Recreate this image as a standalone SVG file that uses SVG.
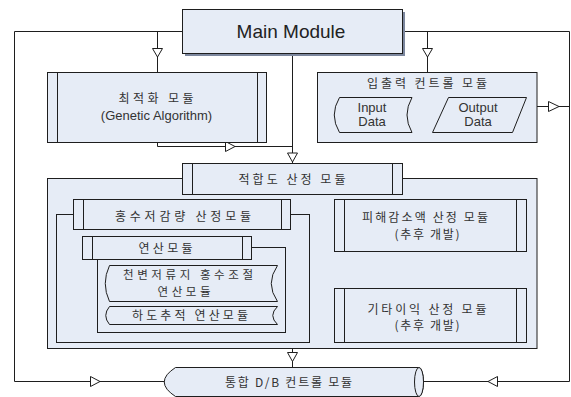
<svg xmlns="http://www.w3.org/2000/svg" width="571" height="397" viewBox="0 0 571 397">
<style>
.n{fill:#e6ecf6;stroke:#1e1e1e;stroke-width:1}
.f{fill:none;stroke:#1e1e1e;stroke-width:1}
.c{fill:none;stroke:#1e1e1e;stroke-width:1}
.a{fill:#ffffff;stroke:#1e1e1e;stroke-width:1}
.t{font-family:"Noto Sans CJK KR","Liberation Sans",sans-serif;font-size:12px;fill:#333;text-anchor:middle}
.s{font-family:"Noto Sans CJK KR","Liberation Sans",sans-serif;font-size:11.5px;fill:#333;text-anchor:middle}
.e{font-family:"Liberation Sans","Noto Sans CJK KR",sans-serif;font-size:13px;fill:#333;text-anchor:middle}
</style>
<rect width="571" height="397" fill="#ffffff"/>
<g id="connectors">
<path class="c" d="M182.5,31.5 H14.5 V381.5 H164"/>
<path class="c" d="M157.5,31.5 V72"/>
<path class="c" d="M402,31.5 H569.5 V381.5 H423"/>
<path class="c" d="M427.5,31.5 V72"/>
<path class="c" d="M537,106.5 H569.5"/>
<path class="c" d="M292.5,56 V163"/>
<path class="c" d="M157.5,142 V146.5 H292.5"/>
<path class="c" d="M292.5,348 V367"/>
<polygon class="a" points="152.5,48.5 162.5,48.5 157.5,57"/>
<polygon class="a" points="422.5,48.5 432.5,48.5 427.5,57"/>
<polygon class="a" points="225.5,141.5 225.5,151.5 235,146.5"/>
<polygon class="a" points="287.5,153 297.5,153 292.5,162"/>
<polygon class="a" points="548.5,101.5 548.5,111.5 559,106.5"/>
<polygon class="a" points="90.5,376.5 90.5,386.5 100,381.5"/>
<polygon class="a" points="497.5,376.5 497.5,386.5 488,381.5"/>
<polygon class="a" points="287.5,352.5 297.5,352.5 292.5,361.5"/>
</g>
<g id="main-module">
<rect x="185" y="12" width="220" height="44" fill="#7c879e"/>
<rect class="n" x="182.5" y="9.5" width="220" height="44"/>
<text x="291" y="38" style="font-family:'Liberation Sans',sans-serif;font-size:19px;fill:#222;text-anchor:middle">Main Module</text>
</g>
<g id="opt-module">
<rect class="n" x="47.5" y="72.5" width="219" height="70"/>
<path class="f" d="M57.5,72.5 V142.5 M257.5,72.5 V142.5"/>
<text class="t" x="156" y="103" textLength="75" lengthAdjust="spacing">최적화 모듈</text>
<text class="e" x="156.5" y="120">(Genetic Algorithm)</text>
</g>
<g id="io-module">
<rect class="n" x="317.5" y="72.5" width="219.5" height="70"/>
<text class="t" x="427" y="88" textLength="120" lengthAdjust="spacing">입출력 컨트롤 모듈</text>
</g>
<g id="input-data">
<path class="n" d="M339.5,97.5 H412 Q402,115 412,132.5 H339.5 Q329,115 339.5,97.5 Z"/>
<text class="e" x="372" y="112">Input</text>
<text class="e" x="372" y="125.5">Data</text>
</g>
<g id="output-data">
<polygon class="n" points="448.5,97.5 526.5,97.5 512.5,132.5 432.5,132.5"/>
<text class="e" x="478" y="112">Output</text>
<text class="e" x="478" y="125.5">Data</text>
</g>
<g id="fitness-container">
<rect class="n" x="47.5" y="178.5" width="489.5" height="170"/>
</g>
<g id="fitness-module">
<rect class="n" x="182.5" y="163.5" width="220" height="31"/>
<path class="f" d="M192.5,163.5 V194.5 M392.5,163.5 V194.5"/>
<text class="t" x="292" y="183.5" textLength="107" lengthAdjust="spacing">적합도 산정 모듈</text>
</g>
<g id="flood-frame">
<rect class="f" x="56.5" y="214.5" width="253" height="128"/>
</g>
<g id="flood-module">
<rect class="n" x="73.5" y="199.5" width="217" height="30"/>
<path class="f" d="M83.5,199.5 V229.5 M281.5,199.5 V229.5"/>
<text class="t" x="183" y="220.5" textLength="136" lengthAdjust="spacing">홍수저감량 산정모듈</text>
</g>
<g id="calc-frame">
<rect class="f" x="97.5" y="247.5" width="188" height="85"/>
</g>
<g id="calc-module">
<rect class="n" x="82.5" y="236.5" width="169" height="23"/>
<path class="f" d="M92.5,236.5 V259.5 M242.5,236.5 V259.5"/>
<text class="t" x="165.5" y="252.5" textLength="54" lengthAdjust="spacing">연산모듈</text>
</g>
<g id="reservoir-module">
<path class="n" d="M109.5,265.5 H277.5 Q265,283.5 277.5,301.5 H109.5 Q101,283.5 109.5,265.5 Z"/>
<text class="s" x="188" y="279" textLength="130" lengthAdjust="spacing">천변저류지 홍수조절</text>
<text class="s" x="184" y="296" textLength="53" lengthAdjust="spacing">연산모듈</text>
</g>
<g id="routing-module">
<path class="n" d="M109.5,306.5 H277.5 Q268,315.5 277.5,324.5 H109.5 Q102,315.5 109.5,306.5 Z"/>
<text class="t" x="190" y="320" textLength="116" lengthAdjust="spacing">하도추적 연산모듈</text>
</g>
<g id="damage-module">
<rect class="n" x="334.5" y="199.5" width="192" height="52"/>
<path class="f" d="M344.5,199.5 V251.5 M516.5,199.5 V251.5"/>
<text class="t" x="425" y="221.5" textLength="126" lengthAdjust="spacing">피해감소액 산정 모듈</text>
<text class="t" x="427" y="238.5" textLength="65" lengthAdjust="spacing">(추후 개발)</text>
</g>
<g id="other-module">
<rect class="n" x="334.5" y="288.5" width="192" height="54"/>
<path class="f" d="M344.5,288.5 V342.5 M516.5,288.5 V342.5"/>
<text class="t" x="427" y="313.5" textLength="119" lengthAdjust="spacing">기타이익 산정 모듈</text>
<text class="t" x="427" y="329.5" textLength="65" lengthAdjust="spacing">(추후 개발)</text>
</g>
<g id="db-module">
<path class="n" d="M175.5,367.5 H419 A4.5,14.5 0 0 1 419,396.5 H175.5 Q153,382 175.5,367.5 Z"/>
<ellipse class="n" cx="419" cy="382" rx="4.5" ry="14.5"/>
<text class="t" x="288.5" y="387" textLength="127" lengthAdjust="spacing">통합 D/B 컨트롤 모듈</text>
</g>
</svg>
